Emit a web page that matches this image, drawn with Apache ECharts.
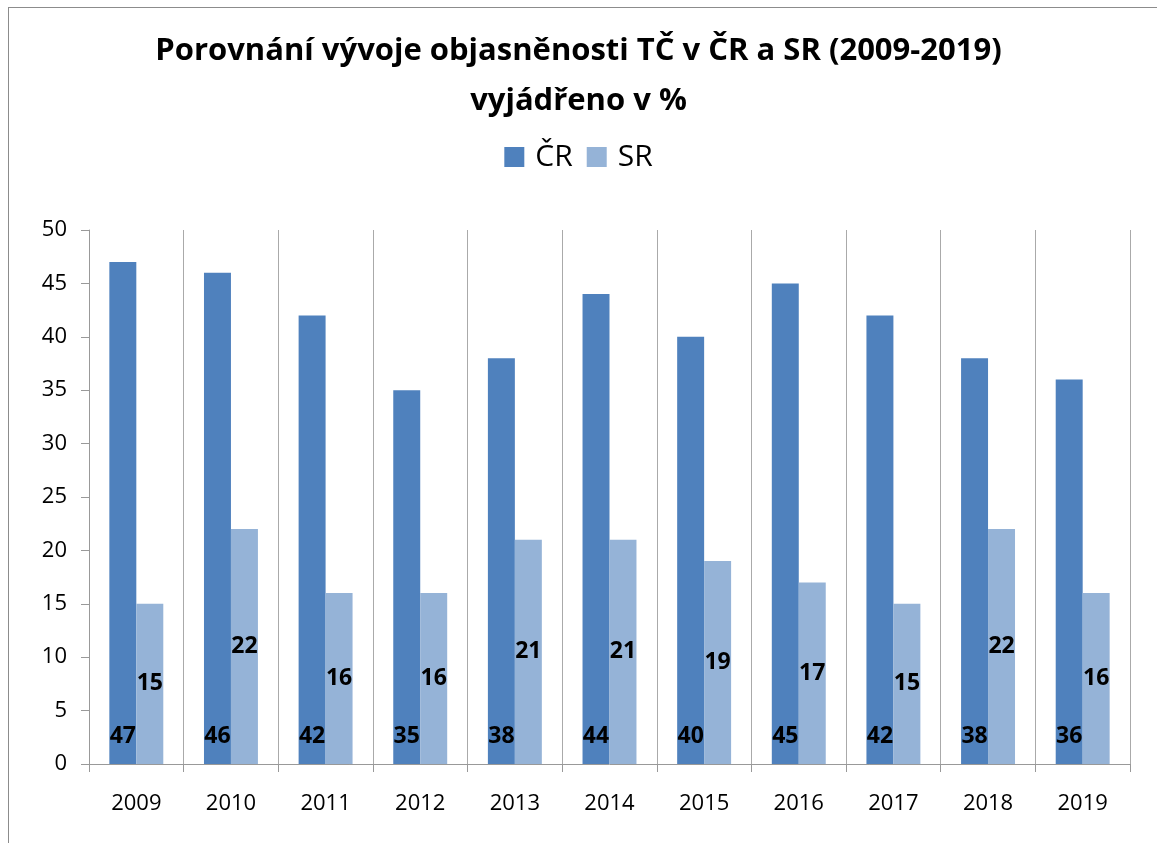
<!DOCTYPE html>
<html>
<head>
<meta charset="utf-8">
<script src="https://cdn.jsdelivr.net/npm/echarts@6/dist/echarts.min.js"></script>
<style>
html,body{margin:0;padding:0;background:#fff;}
#main{width:1157px;height:843px;}
#frame{position:absolute;left:8px;top:7px;width:1160px;height:860px;border:1px solid #8c8c8c;box-sizing:border-box;pointer-events:none;}
</style>
</head>
<body>
<div id="main"></div>
<div id="frame"></div>
<script>
// roky a hodnoty objasněnosti v %
const years = ['2009','2010','2011','2012','2013','2014','2015','2016','2017','2018','2019'];
const crValues = [47, 46, 42, 35, 38, 44, 40, 45, 42, 38, 36];
const srValues = [15, 22, 16, 16, 21, 21, 19, 17, 15, 22, 16];

const font = "'Open Sans', 'Noto Sans', sans-serif";

var myChart = echarts.init(document.getElementById('main'));

var option = {
    animation: false,
    textStyle: {fontFamily: font},
    title: {
        text: 'Porovnání vývoje objasněnosti TČ v ČR a SR (2009-2019)\nvyjádřeno v %',
        left: 'center',
        top: 21,
        textStyle: {fontSize: 31, fontWeight: 'bold', color: '#000', lineHeight: 50, fontFamily: font}
    },
    legend: {
        top: 137,
        left: 'center',
        itemWidth: 20,
        itemHeight: 20,
        itemGap: 14,
        icon: 'rect',
        textStyle: {fontSize: 30, color: '#000', fontFamily: font, padding: [0, 0, 0, 6]},
        data: ['ČR', 'SR']
    },
    grid: {left: 89, right: 27, top: 230, bottom: 79},
    xAxis: {
        type: 'category',
        data: years,
        axisLine: {lineStyle: {color: '#999'}},
        axisTick: {show: true, length: 8, lineStyle: {color: '#999'}},
        axisLabel: {fontSize: 22, color: '#000', margin: 29, fontFamily: font},
        splitLine: {show: true, lineStyle: {color: '#aaa'}}
    },
    yAxis: {
        type: 'value',
        min: 0,
        max: 50,
        interval: 5,
        axisLine: {show: true, lineStyle: {color: '#999'}},
        axisTick: {show: true, length: 8, lineStyle: {color: '#999'}},
        axisLabel: {fontSize: 22, color: '#000', margin: 22, fontFamily: font},
        splitLine: {show: false}
    },
    series: [
        {
            name: 'ČR',
            type: 'bar',
            data: crValues,
            barWidth: '28.5%',
            barGap: '0%',
            barCategoryGap: '43%',
            itemStyle: {color: '#4F81BD'},
            label: {show: true, position: 'insideBottom', distance: 16, fontSize: 23, fontWeight: 'bold', color: '#000', fontFamily: font}
        },
        {
            name: 'SR',
            type: 'bar',
            data: srValues,
            barWidth: '28.5%',
            itemStyle: {color: '#95B3D7'},
            label: {show: true, position: 'inside', fontSize: 23, fontWeight: 'bold', color: '#000', fontFamily: font}
        }
    ]
};

myChart.setOption(option);
</script>
</body>
</html>
